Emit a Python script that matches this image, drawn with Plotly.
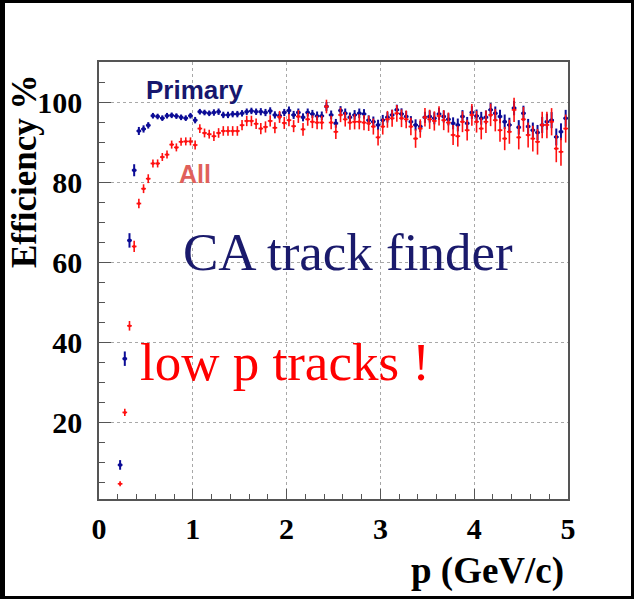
import plotly.graph_objects as go

# momentum bin centres (GeV/c), bin width 0.05 from 0.2 to 5.0
p_bins = [round(0.225 + 0.05 * i, 3) for i in range(96)]
bin_half_width = 0.025

eff_primary = [
    9.5, 36.0, 65.5, 83.0, 92.8, 93.3, 94.2, 96.6, 96.4, 96.0,
    96.6, 96.7, 96.5, 96.2, 96.0, 96.6, 95.5, 97.6, 97.4, 97.2,
    97.4, 97.6, 96.8, 96.8, 97.0, 97.0, 97.2, 97.6, 97.8, 97.6,
    97.6, 97.4, 97.8, 96.8, 96.6, 97.4,
    97.9, 96.8, 97.4, 96.2, 97.4, 97.05, 96.55, 96.55, 98.9, 96.8,
    94.7, 97.9, 97.2, 96.2, 96.8, 97.2, 97.05, 95.5, 95.1, 94.3,
    95.5, 96.2, 96.8, 98.06, 97.05, 96.4, 95.1, 94.3, 93.9, 96.2,
    96.4, 95.96, 97.05, 96.4, 95.7, 94.7, 94.3, 96.4, 94.7, 97.4,
    96.55, 95.96, 96.2, 98.06, 97.2, 96.4, 95.1, 94.3, 98.5, 93.7,
    97.2, 93.9, 93.0, 92.4, 94.3, 95.1, 95.5, 91.3, 92.6, 95.96,
]
err_primary = [
    1.2, 1.8, 1.8, 1.5, 1.0, 0.9, 0.8, 0.7, 0.7, 0.7,
    0.7, 0.7, 0.7, 0.7, 0.7, 0.7, 0.8, 0.7, 0.7, 0.7,
    0.8, 0.8, 0.8, 0.8, 0.8, 0.8, 0.8, 0.8, 0.8, 0.8,
    0.9, 0.9, 0.9, 0.9, 0.9, 0.9,
    1.0, 1.0, 1.0, 1.0, 1.0, 1.0, 1.1, 1.1, 1.1, 1.1,
    1.1, 1.1, 1.2, 1.2, 1.2, 1.2, 1.2, 1.2, 1.3, 1.3,
    1.3, 1.3, 1.3, 1.3, 1.4, 1.4, 1.4, 1.4, 1.4, 1.4,
    1.5, 1.5, 1.5, 1.5, 1.5, 1.5, 1.6, 1.6, 1.6, 1.6,
    1.6, 1.6, 1.7, 1.7, 1.7, 1.7, 1.8, 1.8, 1.8, 1.8,
    1.9, 1.9, 1.9, 1.9, 2.0, 2.0, 2.0, 2.1, 2.1, 2.1,
]

eff_all = [
    4.8, 22.6, 44.2, 64.0, 74.7, 78.4, 80.9, 84.7, 84.7, 86.3,
    86.9, 89.4, 88.7, 90.1, 90.2, 90.2, 89.3, 93.4, 92.3, 92.0,
    91.5, 92.3, 92.8, 92.8, 92.8, 92.8, 94.25, 95.3, 95.3, 94.6,
    93.4, 93.8, 95.3, 93.6, 96.3, 94.8,
    95.5, 94.0, 96.4, 93.2, 95.7, 95.1, 94.9, 94.9, 98.9, 94.9,
    92.6, 96.8, 95.7, 94.9, 95.1, 95.1, 94.9, 94.7, 93.9, 91.2,
    93.9, 95.7, 95.96, 97.2, 95.96, 95.7, 93.9, 90.9, 93.4, 96.2,
    95.7, 95.3, 96.55, 95.5, 94.9, 91.8, 91.5, 95.1, 93.0, 96.8,
    95.1, 93.4, 95.1, 96.8, 95.5, 93.0, 90.9, 92.6, 98.06, 91.2,
    95.7, 91.8, 90.9, 90.1, 94.3, 94.3, 95.1, 88.4, 87.6, 93.4,
]
err_all = [
    0.6, 0.9, 1.2, 1.4, 1.2, 1.1, 1.1, 1.0, 1.0, 1.0,
    1.0, 1.0, 1.0, 1.0, 1.0, 1.0, 1.1, 1.1, 1.1, 1.1,
    1.2, 1.2, 1.2, 1.2, 1.2, 1.2, 1.3, 1.3, 1.3, 1.3,
    1.4, 1.4, 1.4, 1.4, 1.5, 1.5,
    1.5, 1.5, 1.6, 1.6, 1.6, 1.6, 1.7, 1.7, 1.7, 1.7,
    1.8, 1.8, 1.8, 1.8, 1.9, 1.9, 1.9, 1.9, 2.0, 2.0,
    2.0, 2.1, 2.1, 2.1, 2.2, 2.2, 2.2, 2.3, 2.3, 2.3,
    2.4, 2.4, 2.4, 2.5, 2.5, 2.5, 2.6, 2.6, 2.6, 2.7,
    2.7, 2.7, 2.8, 2.8, 2.8, 2.9, 2.9, 3.0, 3.0, 3.0,
    3.1, 3.1, 3.2, 3.2, 3.3, 3.3, 3.4, 3.4, 3.5, 3.5,
]

x_ticks = [0, 1, 2, 3, 4, 5]
y_ticks = [20, 40, 60, 80, 100]

BLUE = "#0c0c96"
RED = "#ff1010"
SERIF = "Liberation Serif, Times New Roman, serif"
SANS = "Liberation Sans, Arial, sans-serif"

W, H = 634, 599
ML, MR, MT, MB = 99, 66, 62, 100
PW, PH = W - ML - MR, H - MT - MB


def px(xp):
    return (xp - ML) / PW


def py(yp):
    return (MT + PH - yp) / PH


fig = go.Figure()
fig.add_trace(go.Scatter(
    x=p_bins, y=eff_primary, mode="markers", name="Primary",
    marker=dict(color=BLUE, size=4),
    error_y=dict(type="data", array=err_primary, color=BLUE, thickness=2, width=0),
    error_x=dict(type="constant", value=bin_half_width, color=BLUE, thickness=2, width=0),
    showlegend=False,
))
fig.add_trace(go.Scatter(
    x=p_bins, y=eff_all, mode="markers", name="All",
    marker=dict(color=RED, size=3),
    error_y=dict(type="data", array=err_all, color=RED, thickness=1.6, width=0),
    error_x=dict(type="constant", value=bin_half_width, color=RED, thickness=1.6, width=0),
    showlegend=False,
))

axis_common = dict(
    showline=True, linecolor="#555555", linewidth=1.5, mirror=True,
    showgrid=True, gridcolor="#a8a8a8", gridwidth=1, griddash="dot",
    zeroline=False, ticks="inside", tickcolor="#555555", tickwidth=1.2,
    tickfont=dict(family=SERIF, size=30, color="black", weight="bold"),
)

fig.update_xaxes(
    range=[0, 5], tickvals=x_ticks, ticktext=[str(t) for t in x_ticks],
    ticklen=10, ticklabelstandoff=2,
    minor=dict(dtick=0.2, ticks="inside", ticklen=5, tickcolor="#555555", showgrid=False),
    **axis_common,
)
fig.update_yaxes(
    range=[1, 110], tickvals=y_ticks, ticktext=[str(t) for t in y_ticks],
    ticklen=12, ticklabelstandoff=9,
    minor=dict(dtick=5, ticks="inside", ticklen=6, tickcolor="#555555", showgrid=False),
    **axis_common,
)

annotations = [
    dict(text="Efficiency %", textangle=-90, x=px(24), y=py(172),
         font=dict(family=SERIF, size=35, color="black", weight="bold")),
    dict(text="p (GeV/c)", x=px(566), y=py(571), xanchor="right",
         font=dict(family=SERIF, size=37, color="black", weight="bold")),
    dict(text="Primary", x=px(144), y=py(90), xanchor="left",
         font=dict(family=SANS, size=26, color="#17176e", weight="bold")),
    dict(text="All", x=px(177), y=py(174), xanchor="left",
         font=dict(family=SANS, size=25, color="#e0605a", weight="bold")),
    dict(text="CA track finder", x=px(181), y=py(252), xanchor="left",
         font=dict(family=SERIF, size=53, color="#1a1a6c")),
    dict(text="low p tracks !", x=px(138), y=py(362), xanchor="left",
         font=dict(family=SERIF, size=53, color="#ff0000")),
]
for a in annotations:
    a.setdefault("xanchor", "center")
    a.setdefault("yanchor", "middle")
    fig.add_annotation(xref="paper", yref="paper", showarrow=False, **a)

# white page inside a thin black frame
fig.add_shape(type="rect", xref="paper", yref="paper", layer="below",
              x0=px(5), x1=px(631), y0=py(596), y1=py(3),
              fillcolor="white", line=dict(width=0))

fig.update_layout(
    width=W, height=H,
    margin=dict(l=ML, r=MR, t=MT, b=MB),
    paper_bgcolor="black", plot_bgcolor="white",
)

fig.write_html("out.html")
